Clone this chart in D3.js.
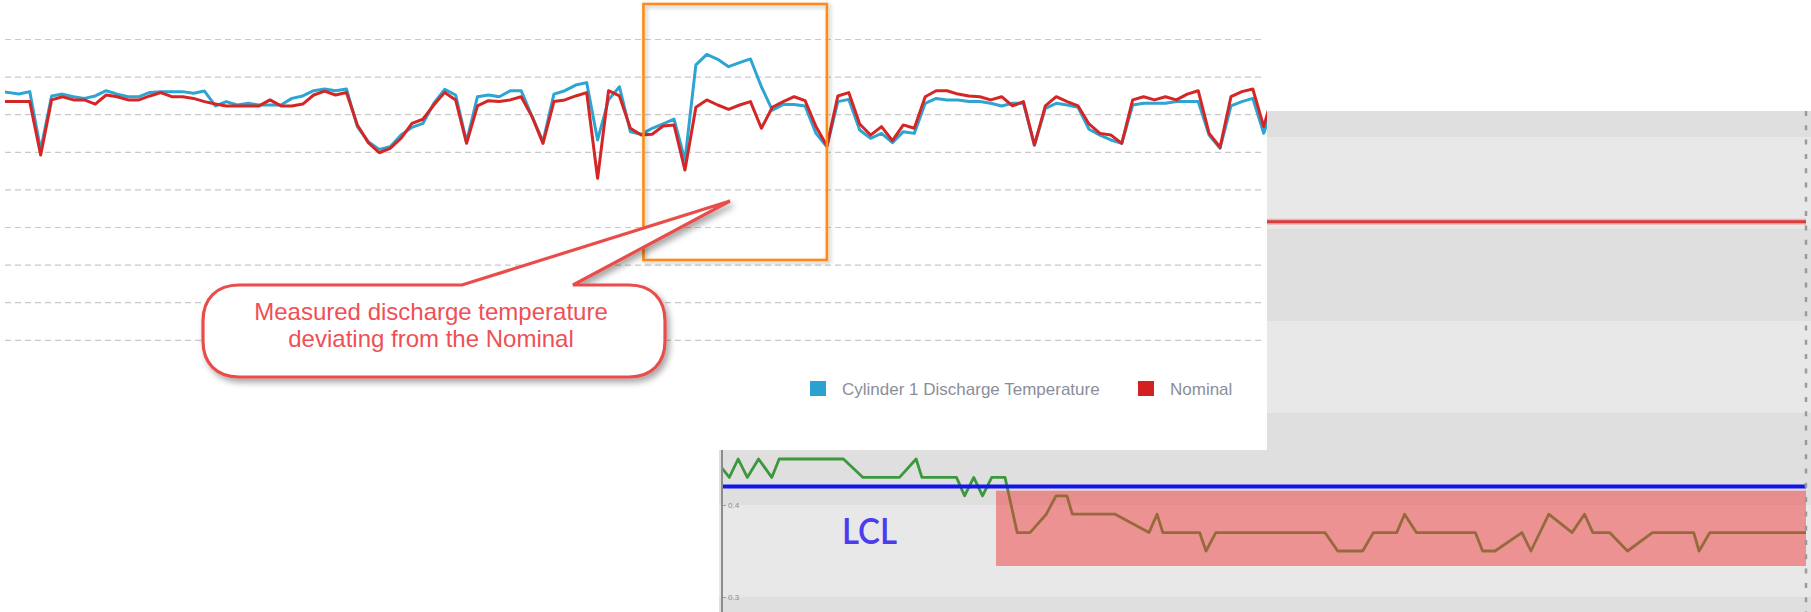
<!DOCTYPE html>
<html>
<head>
<meta charset="utf-8">
<script src="https://cdn.jsdelivr.net/npm/d3@7"></script>
<style>
  body { margin: 0; background: #fff; }
  svg { display: block; font-family: "Liberation Sans", Arial, sans-serif; }
</style>
</head>
<body>
<svg id="chart" width="1811" height="612"></svg>
<script>
// --- front chart: discharge temperature vs nominal, one reading per sample ---
const dischargeTemp = [
  252.3, 251.6, 250.7, 252.0, 221.0, 249.7, 250.7, 249.3, 248.4, 249.7,
  252.5, 250.7, 249.3, 249.3, 251.6, 252.0, 252.0, 252.0, 251.1, 252.3,
  244.4, 246.7, 244.9, 245.8, 244.9, 244.9, 244.9, 248.4, 249.7, 252.5,
  253.4, 252.5, 253.4, 233.4, 225.4, 221.3, 222.7, 228.9, 233.0, 235.1,
  245.8, 253.2, 250.2, 225.4, 249.3, 250.2, 249.3, 252.5, 252.5, 238.7,
  225.4, 250.7, 252.5, 255.5, 256.8, 226.3, 247.6, 254.6, 230.7, 229.3,
  232.5, 234.8, 237.4, 215.6, 266.2, 271.8, 269.2, 265.3, 267.4, 269.4,
  254.6, 242.2, 245.2, 245.2, 244.4, 229.8, 222.7, 246.7, 247.9, 231.6,
  227.2, 229.8, 224.9, 230.7, 229.8, 245.8, 248.4, 247.6, 247.6, 246.7,
  246.7, 245.8, 244.4, 245.8, 245.8, 223.6, 243.1, 245.8, 244.9, 243.7,
  232.0, 228.9, 226.3, 224.5, 244.9, 245.8, 245.8, 245.8, 246.7, 246.7,
  246.7, 228.9, 221.8, 244.4, 246.7, 248.4, 229.8, 247.6
];
const nominalTemp = [
  246.7, 246.7, 246.7, 246.7, 218.3, 247.6, 249.3, 247.6, 247.6, 245.4,
  250.2, 249.3, 247.6, 247.6, 249.7, 251.5, 249.3, 249.3, 248.4, 246.7,
  245.4, 244.4, 244.4, 244.4, 244.4, 247.6, 244.4, 244.4, 245.4, 250.2,
  252.3, 250.2, 251.5, 234.3, 224.9, 219.5, 221.8, 227.2, 235.1, 237.3,
  244.9, 251.6, 247.6, 224.5, 244.4, 247.2, 246.7, 247.6, 249.3, 238.7,
  224.5, 246.7, 247.6, 249.7, 251.5, 205.9, 252.5, 249.7, 232.5, 228.9,
  229.3, 233.7, 234.3, 210.3, 243.7, 247.6, 244.9, 242.6, 244.9, 246.7,
  232.5, 243.7, 246.7, 249.3, 247.2, 233.4, 223.1, 249.7, 251.5, 234.8,
  228.9, 233.4, 225.9, 234.3, 232.5, 249.3, 252.5, 252.5, 250.7, 249.7,
  249.3, 247.6, 249.3, 244.4, 246.7, 223.6, 244.4, 249.3, 246.7, 244.4,
  234.8, 229.8, 228.9, 224.5, 247.6, 249.3, 247.6, 249.3, 247.6, 250.7,
  252.5, 229.8, 222.4, 249.3, 252.0, 253.4, 233.4, 253.8
];
const gridTicks = [280, 260, 240, 220, 200, 180, 160, 140, 120];
const seriesNames = ['Cylinder 1 Discharge Temperature', 'Nominal'];
const highlightRange = [59.2, 76.0];          // sample index span of the orange box
const calloutLines = ['Measured discharge temperature', 'deviating from the Nominal'];

// --- back chart: control chart with LCL ---
const controlTime = [0, 0.81, 1.79, 2.80, 4.05, 5.51, 6.33, 13.44, 15.61, 19.65,
  21.49, 22.13, 25.96, 26.85, 27.87, 28.84, 29.86, 31.33, 32.68, 34.10,
  35.90, 36.97, 38.19, 38.78, 43.52, 47.27, 48.16, 48.80, 52.88, 53.58,
  54.66, 66.76, 68.16, 70.92, 72.11, 74.69, 75.56, 76.87, 83.40, 84.20,
  85.58, 88.55, 89.55, 91.53, 94.10, 95.48, 96.40, 98.26, 100.24, 103.0,
  107.57, 108.16, 109.35, 120];
const controlValue = [0.44, 0.43, 0.45, 0.43, 0.45, 0.43, 0.45, 0.45, 0.43, 0.43,
  0.45, 0.43, 0.43, 0.41, 0.43, 0.41, 0.43, 0.43, 0.37, 0.37,
  0.39, 0.41, 0.41, 0.39, 0.39, 0.37, 0.39, 0.37, 0.37, 0.35,
  0.37, 0.37, 0.35, 0.35, 0.37, 0.37, 0.39, 0.37, 0.37, 0.35,
  0.35, 0.37, 0.35, 0.39, 0.37, 0.39, 0.37, 0.37, 0.35, 0.37,
  0.37, 0.35, 0.37, 0.37];
const bandEdges = [0.2, 0.3, 0.4, 0.5, 0.6, 0.7, 0.8, 0.9];
const controlTicks = [0.3, 0.4];
const lclValue = 0.42;
const uclValue = 0.708;
const alarmTime = [30.33, 120];
const alarmValue = [0.3337, 0.4155];

const svg = d3.select('#chart');
const defs = svg.append('defs');

const shadow = defs.append('filter').attr('id', 'shadow')
  .attr('x', '-10%').attr('y', '-10%').attr('width', '130%').attr('height', '140%');
shadow.append('feDropShadow')
  .attr('dx', 3).attr('dy', 4).attr('stdDeviation', 3)
  .attr('flood-color', '#000').attr('flood-opacity', 0.35);

const softShadow = defs.append('filter').attr('id', 'soft-shadow')
  .attr('x', '-10%').attr('y', '-10%').attr('width', '130%').attr('height', '130%');
softShadow.append('feDropShadow')
  .attr('dx', 2).attr('dy', 2).attr('stdDeviation', 2)
  .attr('flood-color', '#000').attr('flood-opacity', 0.25);

// ================= back chart =================
const back = { left: 719, right: 1811, top: 111, bottom: 612 };
defs.append('clipPath').attr('id', 'back-clip').append('rect')
  .attr('x', back.left).attr('y', back.top)
  .attr('width', back.right - back.left).attr('height', back.bottom - back.top);

const xC = d3.scaleLinear().domain([0, 120]).range([722, 1806]);
const yC = d3.scaleLinear().domain([0.3, 0.4]).range([597, 505]);

const backG = svg.append('g').attr('clip-path', 'url(#back-clip)');

// alternating bands
backG.selectAll('.band')
  .data(d3.pairs(bandEdges))
  .join('rect')
  .attr('class', 'band')
  .attr('x', back.left)
  .attr('width', back.right - back.left)
  .attr('y', d => yC(d[1]))
  .attr('height', d => yC(d[0]) - yC(d[1]))
  .attr('fill', (d, i) => i % 2 === 0 ? '#dfdfdf' : '#e8e8e8');

// UCL line (soft halo + core)
[[6, '#e9b3b3'], [3, '#d83c3c']].forEach(([w, c]) => {
  backG.append('line')
    .attr('x1', xC(0)).attr('x2', xC(120))
    .attr('y1', yC(uclValue)).attr('y2', yC(uclValue))
    .attr('stroke', c).attr('stroke-width', w);
});

// measured line
const controlLine = d3.line()
  .x((d, i) => xC(controlTime[i]))
  .y(d => yC(d));
backG.append('path')
  .datum(controlValue)
  .attr('d', controlLine)
  .attr('fill', 'none')
  .attr('stroke', '#3c983c')
  .attr('stroke-width', 2.8)
  .attr('stroke-linejoin', 'round');

// out-of-control zone
backG.append('rect')
  .attr('x', xC(alarmTime[0]))
  .attr('width', xC(alarmTime[1]) - xC(alarmTime[0]))
  .attr('y', yC(alarmValue[1]))
  .attr('height', yC(alarmValue[0]) - yC(alarmValue[1]))
  .attr('fill', 'rgb(242,60,60)')
  .attr('fill-opacity', 0.5);

// LCL line
backG.append('line')
  .attr('x1', xC(0)).attr('x2', xC(120))
  .attr('y1', yC(lclValue)).attr('y2', yC(lclValue))
  .attr('stroke', '#1414ee').attr('stroke-width', 4);

// left axis, ticks pointing inward
const axisC = backG.append('g')
  .attr('transform', `translate(${xC(0)},0)`)
  .call(d3.axisRight(yC).tickValues(controlTicks).tickSize(4).tickFormat(d3.format('.1f')));
axisC.select('.domain').remove();
axisC.selectAll('line').attr('stroke', '#999');
axisC.selectAll('text')
  .attr('x', 6)
  .style('font-size', '8px')
  .attr('fill', '#8a8a8a');
backG.append('line')
  .attr('x1', xC(0)).attr('x2', xC(0))
  .attr('y1', back.top).attr('y2', back.bottom)
  .attr('stroke', '#8c8c8c').attr('stroke-width', 2);

// dashed right border
backG.append('line')
  .attr('x1', xC(120)).attr('x2', xC(120))
  .attr('y1', back.top).attr('y2', back.bottom)
  .attr('stroke', '#9a9a9a').attr('stroke-width', 2.5)
  .attr('stroke-dasharray', '5,9.3');

backG.append('text')
  .attr('x', 842).attr('y', 544)
  .attr('textLength', 55).attr('lengthAdjust', 'spacingAndGlyphs')
  .style('font-family', 'Lato, "Open Sans", "Liberation Sans", sans-serif')
  .style('font-size', '37px')
  .style('font-weight', 600)
  .attr('fill', '#4b3cf0')
  .text('LCL');

// ================= front chart =================
svg.append('rect')
  .attr('x', 0).attr('y', 0).attr('width', 1267).attr('height', 450)
  .attr('fill', '#fff');

const plot = { left: 5, right: 1267 };
const x = d3.scaleLinear().domain([0, dischargeTemp.length - 1]).range([-3, -3 + 10.92 * (dischargeTemp.length - 1)]);
const y = d3.scaleLinear().domain([120, 280]).range([339.8, 39]);

defs.append('clipPath').attr('id', 'front-clip').append('rect')
  .attr('x', plot.left).attr('y', 0)
  .attr('width', plot.right - plot.left).attr('height', 450);

// dashed gridlines
const grid = svg.append('g')
  .attr('transform', `translate(${plot.left},0)`)
  .call(d3.axisLeft(y).tickValues(gridTicks).tickSize(-(plot.right - plot.left - 2)).tickFormat(''));
grid.select('.domain').remove();
grid.selectAll('line')
  .attr('stroke', '#c9c9c9')
  .attr('stroke-width', 1.2)
  .attr('stroke-dasharray', '6,4');

const line = d3.line()
  .x((d, i) => x(i))
  .y(d => y(d));

const lines = svg.append('g').attr('clip-path', 'url(#front-clip)');
const seriesColors = ['#2ea4d3', '#d52626'];
[dischargeTemp, nominalTemp].forEach((s, k) => {
  lines.append('path')
    .datum(s)
    .attr('d', line)
    .attr('fill', 'none')
    .attr('stroke', seriesColors[k])
    .attr('stroke-width', 3)
    .attr('stroke-linejoin', 'round');
});

// legend
const legend = svg.append('g').attr('class', 'legend');
const legendX = [810, 1138];
seriesNames.forEach((name, k) => {
  const g = legend.append('g').attr('transform', `translate(${legendX[k]},381)`);
  g.append('rect').attr('width', 16).attr('height', 15).attr('fill', k === 0 ? '#29a2d0' : '#d42020');
  g.append('text')
    .attr('x', 32).attr('y', 14)
    .style('font-size', '17px')
    .attr('fill', '#8b8e9a')
    .text(name);
});

// orange highlight box
svg.append('rect')
  .attr('x', x(highlightRange[0])).attr('y', 4)
  .attr('width', x(highlightRange[1]) - x(highlightRange[0]))
  .attr('height', 256)
  .attr('fill', 'none')
  .attr('stroke', '#ff8a14')
  .attr('stroke-width', 2.6)
  .attr('filter', 'url(#soft-shadow)');

// callout bubble (rounded box with a wedge pointing at the box)
const cb = { x0: 203, y0: 285, x1: 665, y1: 377, r: 36 };
const tip = [730, 201];
const base = [462, 573];
const k = 0.62;   // how far the corner handles reach: gives a softer, rounder corner
const p = d3.path();
p.moveTo(cb.x0 + cb.r, cb.y0);
p.lineTo(base[0], cb.y0);
p.lineTo(tip[0], tip[1]);
p.lineTo(base[1], cb.y0);
p.lineTo(cb.x1 - cb.r, cb.y0);
p.bezierCurveTo(cb.x1 - cb.r * (1 - k), cb.y0, cb.x1, cb.y0 + cb.r * (1 - k), cb.x1, cb.y0 + cb.r);
p.lineTo(cb.x1, cb.y1 - cb.r);
p.bezierCurveTo(cb.x1, cb.y1 - cb.r * (1 - k), cb.x1 - cb.r * (1 - k), cb.y1, cb.x1 - cb.r, cb.y1);
p.lineTo(cb.x0 + cb.r, cb.y1);
p.bezierCurveTo(cb.x0 + cb.r * (1 - k), cb.y1, cb.x0, cb.y1 - cb.r * (1 - k), cb.x0, cb.y1 - cb.r);
p.lineTo(cb.x0, cb.y0 + cb.r);
p.bezierCurveTo(cb.x0, cb.y0 + cb.r * (1 - k), cb.x0 + cb.r * (1 - k), cb.y0, cb.x0 + cb.r, cb.y0);
p.closePath();

svg.append('path')
  .attr('d', p.toString())
  .attr('fill', '#fff')
  .attr('stroke', '#e84e4b')
  .attr('stroke-width', 3.2)
  .attr('stroke-linejoin', 'miter')
  .attr('filter', 'url(#shadow)');

svg.append('g').selectAll('text')
  .data(calloutLines)
  .join('text')
  .attr('x', 431)
  .attr('y', (d, i) => 320 + i * 27)
  .attr('text-anchor', 'middle')
  .style('font-size', '24px')
  .attr('fill', '#ef4f55')
  .text(d => d);
</script>
</body>
</html>
